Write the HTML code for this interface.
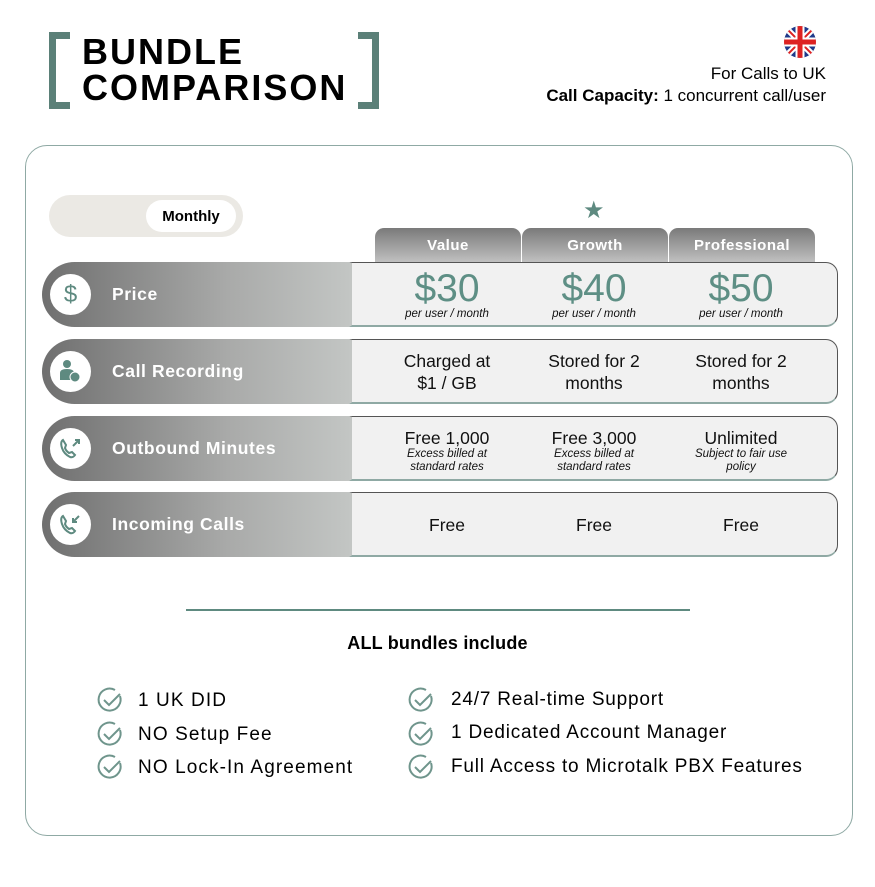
<!DOCTYPE html>
<html><head><meta charset="utf-8"><style>
*{margin:0;padding:0;box-sizing:border-box}
body{width:875px;height:887px;background:#fff;position:relative;font-family:"Liberation Sans",sans-serif;overflow:hidden}
.a{position:absolute}
.br{position:absolute;top:32px;width:21px;height:77px;border:7px solid #5b8078}
.title{position:absolute;left:82px;top:34px;font-weight:bold;font-size:36px;line-height:36px;letter-spacing:2px;color:#000}
.card{position:absolute;left:25px;top:145px;width:828px;height:691px;border:1.5px solid #8fa9a4;border-radius:22px}
.tab{position:absolute;top:228px;height:35px;width:146px;border-radius:9px 9px 0 0;background:linear-gradient(#7a7a7a,#c2c2c2);color:#fff;font-weight:bold;font-size:15px;text-align:center;line-height:36px;letter-spacing:.5px}
.lab{position:absolute;left:42px;width:310px;height:65px;border-radius:33px 0 0 33px;background:linear-gradient(90deg,#6f6f6f,#a9aaa9 60%,#c3c6c4)}
.lab .c{position:absolute;left:8px;top:12px;width:41px;height:41px;border-radius:50%;background:#fff}
.lab .t{position:absolute;left:70px;top:0;line-height:65px;color:#fff;font-weight:bold;font-size:17.5px;letter-spacing:.6px}
.cell{position:absolute;left:349px;width:489px;height:65px;background:#f1f1f1;border:1px solid #555;border-bottom:2px solid #8fa9a4;border-left:3px solid #c3c6c4;border-radius:0 12px 12px 0}
.col{position:absolute;width:150px;text-align:center;color:#111}
.p{font-size:39px;color:#5e8f85;line-height:38px}
.s{font-size:11.5px;font-style:italic;line-height:13px}
.m{font-size:17.5px;line-height:22px}
.chk{position:absolute;font-size:19px;color:#000;letter-spacing:1.1px}
.r{letter-spacing:.8px}
</style></head><body>
<div class="br" style="left:49px;border-right:none"></div>
<div class="br" style="left:358px;border-left:none"></div>
<div class="title">BUNDLE<br>COMPARISON</div>
<svg class="a" style="left:784px;top:26px" width="32" height="32" viewBox="0 0 32 32"><defs><clipPath id="cc"><circle cx="16" cy="16" r="16"/></clipPath></defs><g clip-path="url(#cc)"><rect width="32" height="32" fill="#1f3a8a"/><path d="M0 0L32 32M32 0L0 32" stroke="#fff" stroke-width="6"/><path d="M0 0L32 32M32 0L0 32" stroke="#d22" stroke-width="2"/><path d="M16 0V32M0 16H32" stroke="#fff" stroke-width="9"/><path d="M16 0V32M0 16H32" stroke="#d22" stroke-width="5"/></g></svg>
<div class="a" style="right:49px;top:63px;font-size:17px;text-align:right;line-height:22px">For Calls to UK<br><b>Call Capacity:</b> 1 concurrent call/user</div>
<div class="card"></div>
<div class="a" style="left:49px;top:195px;width:194px;height:42px;border-radius:21px;background:#ebe9e4"></div>
<div class="a" style="left:146px;top:200px;width:90px;height:32px;border-radius:16px;background:#fff;font-weight:bold;font-size:15px;text-align:center;line-height:33px">Monthly</div>
<div class="a" style="left:583px;top:196px;font-size:24px;color:#5e8a80">★</div>
<div class="tab" style="left:375px">Value</div>
<div class="tab" style="left:522px">Growth</div>
<div class="tab" style="left:669px">Professional</div>

<div class="lab" style="top:262px"><div class="c"><div style="text-align:center;line-height:41px;font-size:24px;color:#5e8a80">$</div></div><div class="t">Price</div></div>
<div class="cell" style="top:262px"></div>
<div class="col" style="left:372px;top:270px"><div class="p">$30</div><div class="s">per user / month</div></div>
<div class="col" style="left:519px;top:270px"><div class="p">$40</div><div class="s">per user / month</div></div>
<div class="col" style="left:666px;top:270px"><div class="p">$50</div><div class="s">per user / month</div></div>

<div class="lab" style="top:339px"><div class="c"><svg width="41" height="41"><circle cx="17" cy="13" r="4" fill="#5e8a80"/><path d="M10 29v-7q0-4 7-4t7 4v7z" fill="#5e8a80"/><circle cx="25" cy="26" r="5" fill="#5e8a80" stroke="#fff"/></svg></div><div class="t">Call Recording</div></div>
<div class="cell" style="top:339px"></div>
<div class="col m" style="left:372px;top:350px">Charged at<br>$1 / GB</div>
<div class="col m" style="left:519px;top:350px">Stored for 2<br>months</div>
<div class="col m" style="left:666px;top:350px">Stored for 2<br>months</div>

<div class="lab" style="top:416px"><div class="c"><svg width="41" height="41" fill="none" stroke="#5e8a80" stroke-width="2"><path d="M13 12q-3 2-1 8t8 9q3 1 5-2l-3-3-3 1q-3-2-4-5l1-3z"/><path d="M23 18l6-6M25 12h4v4"/></svg></div><div class="t">Outbound Minutes</div></div>
<div class="cell" style="top:416px"></div>
<div class="col" style="left:372px;top:428px"><div class="m" style="line-height:20px">Free 1,000</div><div class="s">Excess billed at<br>standard rates</div></div>
<div class="col" style="left:519px;top:428px"><div class="m" style="line-height:20px">Free 3,000</div><div class="s">Excess billed at<br>standard rates</div></div>
<div class="col" style="left:666px;top:428px"><div class="m" style="line-height:20px">Unlimited</div><div class="s">Subject to fair use<br>policy</div></div>

<div class="lab" style="top:492px"><div class="c"><svg width="41" height="41" fill="none" stroke="#5e8a80" stroke-width="2"><path d="M13 12q-3 2-1 8t8 9q3 1 5-2l-3-3-3 1q-3-2-4-5l1-3z"/><path d="M29 12l-6 6M23 14v4h4"/></svg></div><div class="t">Incoming Calls</div></div>
<div class="cell" style="top:492px"></div>
<div class="col m" style="left:372px;top:514px">Free</div>
<div class="col m" style="left:519px;top:514px">Free</div>
<div class="col m" style="left:666px;top:514px">Free</div>

<div class="a" style="left:186px;top:609px;width:504px;height:2px;background:#5e8a80"></div>
<div class="a" style="left:0;width:875px;top:633px;text-align:center;font-weight:bold;font-size:18px;letter-spacing:.2px">ALL bundles include</div>

<svg class="a" style="left:0;top:0" width="875" height="887" fill="none" stroke="#6f958c" stroke-width="2">
<g id="k"><path d="M120 696a11 11 0 1 1-5-6"/><path d="M104 700l5 5 11-11"/></g>
<use href="#k" y="34"/><use href="#k" y="67"/>
<use href="#k" x="311"/><use href="#k" x="311" y="34"/><use href="#k" x="311" y="67"/>
</svg>
<div class="chk" style="left:138px;top:690px">1 UK DID</div>
<div class="chk" style="left:138px;top:724px">NO Setup Fee</div>
<div class="chk" style="left:138px;top:757px">NO Lock-In Agreement</div>
<div class="chk r" style="left:451px;top:689px">24/7 Real-time Support</div>
<div class="chk r" style="left:451px;top:722px">1 Dedicated Account Manager</div>
<div class="chk r" style="left:451px;top:756px">Full Access to Microtalk PBX Features</div>
</body></html>
